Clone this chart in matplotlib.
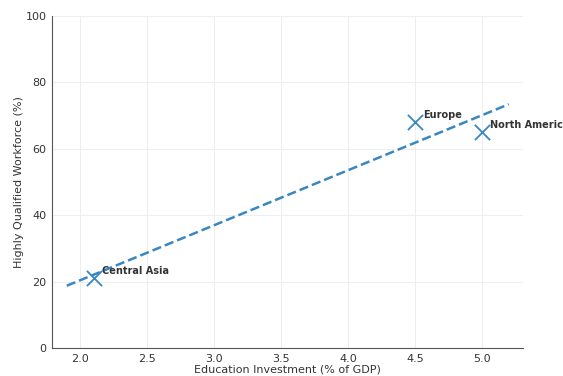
import matplotlib
matplotlib.use("Agg")
import matplotlib.pyplot as plt
import numpy as np

regions = ["Central Asia", "Europe", "North America"]
investment = [2.1, 4.5, 5.0]
workforce = [21, 68, 65]

fig = plt.figure(figsize=(5.63, 3.76), dpi=100)
ax = fig.add_axes([52/563, 1-348/376, (523-52)/563, (348-16)/376])

color = "#3a87c0"
ax.scatter(investment, workforce, marker="x", s=120, color=color, linewidths=1.3, zorder=3)

slope, intercept = np.polyfit(investment, workforce, 1)
xs = np.linspace(1.9, 5.2, 50)
ax.plot(xs, slope * xs + intercept, linestyle="--", color=color, linewidth=1.8, zorder=2)

for name, x, y in zip(regions, investment, workforce):
    ax.annotate(name, (x, y), xytext=(6, 3), textcoords="offset points",
                fontsize=7, fontweight="bold", color="#333333", annotation_clip=False)

ax.set_xlim(1.79, 5.306)
ax.set_ylim(0, 100)
ax.set_xticks([2.0, 2.5, 3.0, 3.5, 4.0, 4.5, 5.0])
ax.set_yticks([0, 20, 40, 60, 80, 100])
ax.grid(True, color="#eeeeee", linewidth=0.7)
ax.set_axisbelow(True)
for s in ["top", "right"]:
    ax.spines[s].set_visible(False)
for s in ["left", "bottom"]:
    ax.spines[s].set_color("#555555")
ax.tick_params(labelsize=8, colors="#333333", length=0, pad=4)
ax.set_xlabel("Education Investment (% of GDP)", fontsize=8, color="#333333", labelpad=1)
ax.set_ylabel("Highly Qualified Workforce (%)", fontsize=8, color="#333333", labelpad=1)

fig.savefig("out.png", dpi=100)
